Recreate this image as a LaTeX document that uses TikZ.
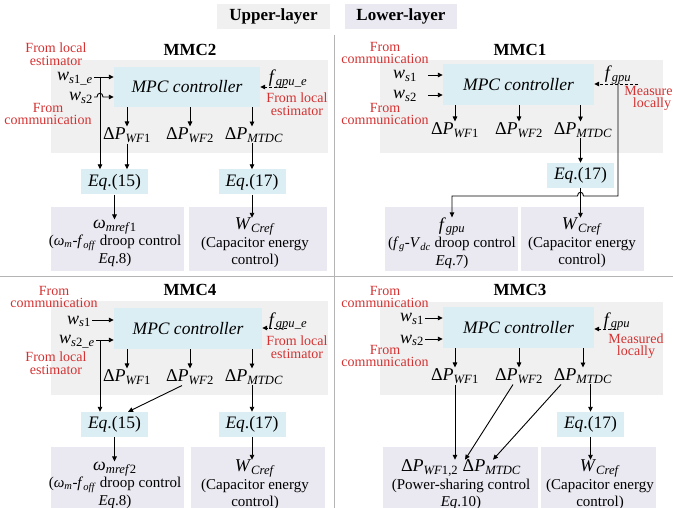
\documentclass[tikz,border=0pt]{standalone}
\usepackage{fontspec}
\setmainfont{Liberation Serif}
\usepackage{tikz}
\usetikzlibrary{arrows.meta, positioning, calc}
\definecolor{upfill}{RGB}{240,240,240}
\definecolor{lowfill}{RGB}{234,232,240}
\definecolor{mpcblue}{RGB}{219,238,244}
\definecolor{srcred}{RGB}{212,50,50}
\definecolor{sepgray}{RGB}{180,180,180}
\newcommand{\isub}[2]{\textit{#1}\textsubscript{#2}}
\newcommand{\bigln}{\fontsize{18}{18}\selectfont}

\begin{document}
\begin{tikzpicture}[x=1pt, y=-1pt,
    upbox/.style={rectangle, fill=upfill, inner sep=0pt},
    lowbox/.style={rectangle, fill=lowfill, inner sep=0pt},
    mpc/.style={rectangle, fill=mpcblue, inner sep=0pt,
        font=\fontsize{17.5}{20}\selectfont\itshape},
    eqbox/.style={rectangle, fill=mpcblue, minimum width=67pt, minimum height=25pt,
        inner sep=0pt, font=\fontsize{17.5}{20}\selectfont},
    ttl/.style={font=\fontsize{17}{20}\selectfont\bfseries},
    var/.style={font=\fontsize{18}{20}\selectfont, inner sep=1pt,
        text height=8pt, text depth=0pt},
    dpl/.style={font=\fontsize{18}{20}\selectfont, inner sep=1pt},
    src/.style={font=\fontsize{14}{12.5}\selectfont, text=srcred,
        align=center, inner sep=0pt},
    lowtxt/.style={font=\fontsize{15}{17.5}\selectfont, align=center, inner sep=0pt},
    arr/.style={-{Triangle[length=5pt, width=4.5pt]}, line width=0.9pt},
    darr/.style={arr, dash pattern=on 3pt off 2pt},
    sepline/.style={draw=sepgray, line width=0.8pt}
]
\useasboundingbox (0,0) rectangle (673,508);

\node[upbox, ttl, minimum width=113pt, minimum height=25pt] (legup) at (273.5,16.5) {Upper-layer};
\node[lowbox, ttl, minimum width=112pt, minimum height=25pt] (leglow) at (401,16.5) {Lower-layer};
\draw[sepline] (334,35) -- (334,508);
\draw[sepline] (0,276) -- (673,276);

% MMC2
\node[ttl] (t2) at (190,50) {MMC2};
\node[upbox, minimum width=277pt, minimum height=93pt] (up2) at (189.5,106.5) {};
\node[mpc, minimum width=146pt, minimum height=40pt] (mpc2) at (187,87) {MPC controller};
\node[var, anchor=east] (w2a) at (94,77) {\isub{w}{\textit{s}1\_\textit{e}}};
\node[var, anchor=east] (w2b) at (94,97) {\isub{w}{\textit{s}2}};
\node[var] (f2) at (288,79) {\isub{f}{\textit{gpu\_e}}};
\node[src] (s2a) at (56,54) {From local\\estimator};
\node[src] (s2b) at (48,114) {From\\communication};
\node[src] (s2c) at (297,104) {From local\\estimator};
\node[dpl] (dp2a) at (127,135) {Δ\isub{P}{\textit{WF}1}};
\node[dpl] (dp2b) at (190,135) {Δ\isub{P}{\textit{WF}2}};
\node[dpl] (dp2c) at (254,135) {Δ\isub{P}{\textit{MTDC}}};
\node[eqbox] (eq2a) at (114.5,182) {\textit{Eq}.(15)};
\node[eqbox] (eq2b) at (252,182) {\textit{Eq}.(17)};
\node[lowbox, minimum width=133pt, minimum height=64pt] (low2a) at (117.5,239) {};
\node[lowbox, minimum width=138pt, minimum height=64pt] (low2b) at (258,239) {};
\node[lowtxt] (txt2a) at (115,243) {{\bigln\isub{ω}{\textit{mref}1}}\\(\isub{ω}{\textit{m}}-\isub{f}{\textit{off}} droop control\\\textit{Eq}.8)};
\node[lowtxt] (txt2b) at (255,243) {{\bigln\isub{W}{\textit{Cref}}}\\(Capacitor energy\\control)};
\coordinate (j2) at ([xshift=6pt]w2a.east);
\coordinate (fin2) at (287,87);
\draw[arr] (w2a.east) -- (w2a.east -| mpc2.west);
\draw[arr] (w2b.east) -- ($(j2 |- w2b.east)+(-3,0)$) .. controls +(0,-5) and +(0,-5) .. ($(j2 |- w2b.east)+(3,0)$) -- (w2b.east -| mpc2.west);
\draw[arr] (j2) -- (j2 |- eq2a.north);
\draw[darr] (fin2) -- (fin2 -| mpc2.east);
\draw[arr] (mpc2.south -| dp2a) -- (dp2a.north);
\draw[arr] (mpc2.south -| dp2b) -- (dp2b.north);
\draw[arr] (mpc2.south -| eq2b) -- (dp2c.north -| eq2b);
\draw[arr] (dp2a.south) -- (dp2a.south |- eq2a.north);
\draw[arr] (dp2c.south -| eq2b) -- (eq2b.north);
\draw[arr] (eq2a.south) -- (eq2a.south |- txt2a.north);
\draw[arr] (eq2b.south) -- (eq2b.south |- txt2b.north);

% MMC1
\node[ttl] (t1) at (520,50) {MMC1};
\node[upbox, minimum width=283pt, minimum height=93pt] (up1) at (521.5,106.5) {};
\node[mpc, minimum width=151pt, minimum height=41pt] (mpc1) at (518.5,84.5) {MPC controller};
\node[var, anchor=east] (w1a) at (418,75) {\isub{w}{\textit{s}1}};
\node[var, anchor=east] (w1b) at (418,95) {\isub{w}{\textit{s}2}};
\node[var] (f1) at (618,75) {\isub{f}{\textit{gpu}}};
\node[src] (s1a) at (385,53) {From\\communication};
\node[src] (s1b) at (385,114) {From\\communication};
\node[src] (m1) at (652,98) {Measured\\locally};
\node[dpl] (dp1a) at (455,130) {Δ\isub{P}{\textit{WF}1}};
\node[dpl] (dp1b) at (519,130) {Δ\isub{P}{\textit{WF}2}};
\node[dpl] (dp1c) at (583,130) {Δ\isub{P}{\textit{MTDC}}};
\node[eqbox] (eq1) at (580.5,175.5) {\textit{Eq}.(17)};
\node[lowbox, minimum width=133pt, minimum height=64pt] (low1a) at (451.5,239) {};
\node[lowbox, minimum width=123pt, minimum height=64pt] (low1b) at (582.5,239) {};
\node[lowtxt] (txt1a) at (452,243) {{\bigln\isub{f}{\textit{gpu}}}\\(\isub{f}{\textit{g}}-\isub{V}{\textit{dc}} droop control\\\textit{Eq}.7)};
\node[lowtxt] (txt1b) at (582,243) {{\bigln\isub{W}{\textit{Cref}}}\\(Capacitor energy\\control)};
\coordinate (fin1) at (638,84);
\coordinate (fj1) at (fin1 -| f1);
\coordinate (bend1) at (fj1 |- 0,196);
\draw[arr, shorten <=10pt] (w1a.east) -- (w1a.east -| mpc1.west);
\draw[arr, shorten <=10pt] (w1b.east) -- (w1b.east -| mpc1.west);
\draw[darr] (fin1) -- (fin1 -| mpc1.east);
\draw[arr] (mpc1.south -| dp1a) -- (dp1a.north);
\draw[arr] (mpc1.south -| dp1b) -- (dp1b.north);
\draw[arr] (mpc1.south -| eq1) -- (dp1c.north -| eq1);
\draw[arr] (dp1c.south -| eq1) -- (eq1.north);
\draw[arr] (eq1.south) -- (eq1.south |- txt1b.north);
\draw[arr] (fj1) -- (bend1) -- ($(bend1 -| eq1)+(3,0)$) .. controls +(0,-5) and +(0,-5) .. ($(bend1 -| eq1)+(-3,0)$) -| (txt1a.north);

% MMC4
\node[ttl] (t4) at (190,290) {MMC4};
\node[upbox, minimum width=277pt, minimum height=94pt] (up4) at (189.5,348) {};
\node[mpc, minimum width=148pt, minimum height=41pt] (mpc4) at (188,328.5) {MPC controller};
\node[var, anchor=east] (w4a) at (92,320) {\isub{w}{\textit{s}1}};
\node[var, anchor=east] (w4b) at (96,340) {\isub{w}{\textit{s}2\_\textit{e}}};
\node[var] (f4) at (288,321) {\isub{f}{\textit{gpu\_e}}};
\node[src] (s4a) at (54,297) {From\\communication};
\node[src] (s4b) at (56,363) {From local\\estimator};
\node[src] (s4c) at (297,347) {From local\\estimator};
\node[dpl] (dp4a) at (127,377) {Δ\isub{P}{\textit{WF}1}};
\node[dpl] (dp4b) at (190,377) {Δ\isub{P}{\textit{WF}2}};
\node[dpl] (dp4c) at (254,377) {Δ\isub{P}{\textit{MTDC}}};
\node[eqbox] (eq4a) at (114.5,424.5) {\textit{Eq}.(15)};
\node[eqbox] (eq4b) at (252,424.5) {\textit{Eq}.(17)};
\node[lowbox, minimum width=133pt, minimum height=65pt] (low4a) at (117.5,479.5) {};
\node[lowbox, minimum width=134pt, minimum height=65pt] (low4b) at (258,479.5) {};
\node[lowtxt] (txt4a) at (115,485) {{\bigln\isub{ω}{\textit{mref}2}}\\(\isub{ω}{\textit{m}}-\isub{f}{\textit{off}} droop control\\\textit{Eq}.8)};
\node[lowtxt] (txt4b) at (255,485) {{\bigln\isub{W}{\textit{Cref}}}\\(Capacitor energy\\control)};
\coordinate (j4) at ([xshift=4pt]w4b.east);
\coordinate (fin4) at (287,328);
\draw[arr] (w4a.east) -- (w4a.east -| mpc4.west);
\draw[arr] (w4b.east) -- (w4b.east -| mpc4.west);
\draw[arr] (j4) -- (j4 |- eq4a.north);
\draw[darr] (fin4) -- (fin4 -| mpc4.east);
\draw[arr] (mpc4.south -| dp4a) -- (dp4a.north);
\draw[arr] (mpc4.south -| dp4b) -- (dp4b.north);
\draw[arr] (mpc4.south -| eq4b) -- (dp4c.north -| eq4b);
\draw[arr] ($(dp4b.south)+(-8,0)$) -- ($(eq4a.north)+(13.5,0)$);
\draw[arr] (dp4c.south -| eq4b) -- (eq4b.north);
\draw[arr] (eq4a.south) -- (eq4a.south |- txt4a.north);
\draw[arr] (eq4b.south) -- (eq4b.south |- txt4b.north);

% MMC3
\node[ttl] (t3) at (520,290) {MMC3};
\node[upbox, minimum width=283pt, minimum height=93pt] (up3) at (521.5,348.5) {};
\node[mpc, minimum width=151pt, minimum height=41pt] (mpc3) at (518.5,327.5) {MPC controller};
\node[var, anchor=east] (w3a) at (425,318) {\isub{w}{\textit{s}1}};
\node[var, anchor=east] (w3b) at (425,339) {\isub{w}{\textit{s}2}};
\node[var] (f3) at (617,321) {\isub{f}{\textit{gpu}}};
\node[src] (s3a) at (385,297) {From\\communication};
\node[src] (s3b) at (385,356) {From\\communication};
\node[src] (m3) at (636,346) {Measured\\locally};
\node[dpl] (dp3a) at (455,376) {Δ\isub{P}{\textit{WF}1}};
\node[dpl] (dp3b) at (519,376) {Δ\isub{P}{\textit{WF}2}};
\node[dpl] (dp3c) at (583,376) {Δ\isub{P}{\textit{MTDC}}};
\node[eqbox] (eq3) at (590.5,424.5) {\textit{Eq}.(17)};
\node[lowbox, minimum width=155pt, minimum height=65pt] (low3a) at (460.5,479.5) {};
\node[lowbox, minimum width=115pt, minimum height=65pt] (low3b) at (598.5,479.5) {};
\node[lowtxt] (txt3a) at (461,485) {{\bigln Δ\isub{P}{\textit{WF}1,2} Δ\isub{P}{\textit{MTDC}}}\\(Power-sharing control\\\textit{Eq}.10)};
\node[lowtxt] (txt3b) at (600,485) {{\bigln\isub{W}{\textit{Cref}}}\\(Capacitor energy\\control)};
\coordinate (fin3) at (616,329);
\draw[arr] (w3a.east) -- (w3a.east -| mpc3.west);
\draw[arr] (w3b.east) -- (w3b.east -| mpc3.west);
\draw[darr] (fin3) -- (fin3 -| mpc3.east);
\draw[arr] (mpc3.south -| dp3a) -- (dp3a.north);
\draw[arr] (mpc3.south -| dp3b) -- (dp3b.north);
\draw[arr] (mpc3.south -| dp3c) -- (dp3c.north);
\draw[arr] (dp3a.south) -- (dp3a.south |- txt3a.north);
\draw[arr] ($(dp3b.south)+(-6,0)$) -- ($(txt3a.north)+(4,0)$);
\draw[arr] ($(dp3c.south)+(-22,0)$) -- ($(txt3a.north)+(32,0)$);
\draw[arr] (eq3.north |- dp3c.south) -- (eq3.north);
\draw[arr] (eq3.south) -- (eq3.south |- txt3b.north);
\end{tikzpicture}
\end{document}
